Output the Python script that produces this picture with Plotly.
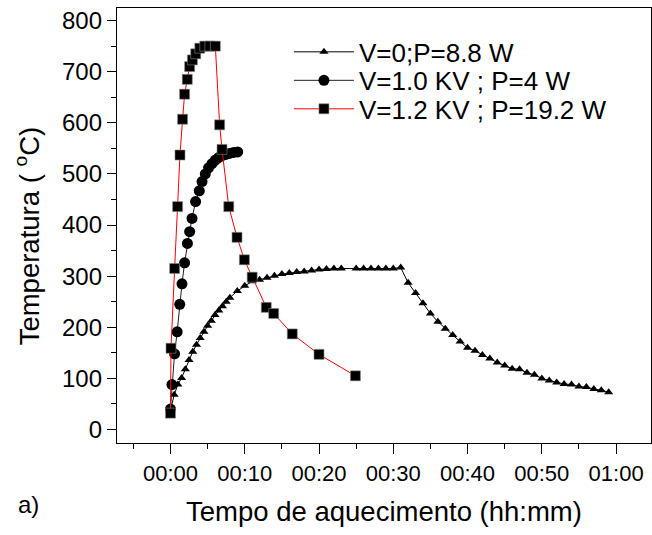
import plotly.graph_objects as go

# Heating time in minutes and temperature in degC for each run
t_v0 = [0, 0.5, 1.0, 1.5, 2.0, 2.5, 3.0, 3.5, 4.0, 4.5, 5.0, 5.5, 6.0, 6.5, 7.0, 7.5, 8.0,
        9, 10, 11, 12, 13, 14, 15, 16, 17, 18, 19, 20, 21, 22, 23,
        25, 26, 27, 28, 29, 30, 31,
        32, 33, 34, 35, 36, 37, 38, 39, 40, 41, 42, 43, 44, 45, 46, 47, 48, 49,
        50, 51, 52, 53, 54, 55, 56, 57, 58, 59]
temp_v0 = [38, 68, 88, 101, 118, 136, 152, 166, 179, 191, 203, 213, 224, 233, 241, 250, 258,
           271, 281, 290, 293, 297, 301, 304, 306, 308, 309, 311, 313, 314, 315, 315,
           315, 315, 315, 315, 315, 315, 317,
           287, 267, 247, 227, 211, 197, 185, 172, 160, 154, 146, 139, 131, 125, 119, 118, 111, 107,
           100, 96, 92, 89, 88, 84, 83, 79, 77, 73]

t_v10 = [0, 0.2, 0.55, 0.9, 1.25, 1.55, 1.9, 2.28, 2.58, 2.9, 3.38, 3.88, 4.25, 4.69,
         5.13, 5.59, 6.04, 6.48, 6.94, 7.39, 7.92, 8.5, 9.05]
temp_v10 = [40, 88, 148, 191, 245, 285, 326, 364, 387, 413, 446, 467, 485, 500,
            512, 520, 527, 532, 536, 538, 540, 542, 543]

t_v12 = [0, 0.07, 0.56, 0.96, 1.28, 1.63, 1.9, 2.26, 2.58, 2.95, 3.4, 3.95, 4.62, 5.3, 6.04,
         6.62, 6.94, 7.85, 8.96, 9.95, 11.0, 12.9, 13.9, 16.4, 20.0, 24.9]
temp_v12 = [32, 159, 315, 436, 537, 607, 656, 685, 710, 723, 735, 746, 750, 750, 750,
            596, 548, 436, 376, 332, 298, 239, 227, 187, 147, 105]

series_names = ["V=0;P=8.8 W", "V=1.0 KV ; P=4 W", "V=1.2 KV ; P=19.2 W"]

x_tick_vals = [0, 10, 20, 30, 40, 50, 60]
x_tick_text = ["00:00", "00:10", "00:20", "00:30", "00:40", "00:50", "01:00"]
y_tick_vals = [0, 100, 200, 300, 400, 500, 600, 700, 800]

FONT = "Liberation Sans, Arial, sans-serif"

fig = go.Figure()
fig.add_trace(go.Scatter(
    x=t_v0, y=temp_v0, name=series_names[0], mode="lines+markers", legend="legend",
    line=dict(color="black", width=1),
    marker=dict(symbol="triangle-up", size=8, color="black"),
))
fig.add_trace(go.Scatter(
    x=t_v10, y=temp_v10, name=series_names[1], mode="lines+markers", legend="legend2",
    line=dict(color="#222222", width=1),
    marker=dict(symbol="circle", size=11, color="black"),
))
fig.add_trace(go.Scatter(
    x=t_v12, y=temp_v12, name=series_names[2], mode="lines+markers", legend="legend3",
    line=dict(color="#ff0000", width=1),
    marker=dict(symbol="square", size=10, color="black",
                line=dict(color="#888888", width=0.6)),
))

x_range = [-7.2, 64.7]
y_range = [-26.4, 824.6]


def legend_row(y):
    # one legend box per series so each row sits at its own height
    return dict(
        x=0.322, y=y, xanchor="left", yanchor="middle",
        bgcolor="rgba(0,0,0,0)", borderwidth=0,
        font=dict(family=FONT, size=26, color="black"),
        itemwidth=60,
    )


fig.update_layout(
    width=652, height=535,
    margin=dict(l=117, r=1, t=8, b=92),
    paper_bgcolor="white", plot_bgcolor="white",
    font=dict(family=FONT, size=23, color="black"),
    showlegend=True,
    legend=legend_row(0.899),
    legend2=legend_row(0.8335),
    legend3=legend_row(0.768),
    xaxis=dict(
        range=x_range, showgrid=False, zeroline=False,
        showline=True, linecolor="black", linewidth=1.3, mirror=True,
        ticks="outside", ticklen=10, tickwidth=1.3, tickcolor="black",
        tickvals=x_tick_vals, ticktext=x_tick_text,
        tickfont=dict(family=FONT, size=22),
        minor=dict(dtick=5, tick0=0, ticks="outside", ticklen=5, tickwidth=1.3,
                   tickcolor="black", showgrid=False),
        title=dict(text="Tempo de aquecimento (hh:mm)", font=dict(family=FONT, size=27.5),
                   standoff=17),
    ),
    yaxis=dict(
        range=y_range, showgrid=False, zeroline=False,
        showline=True, linecolor="black", linewidth=1.3, mirror=True,
        ticks="outside", ticklen=9, tickwidth=1.3, tickcolor="black",
        tickvals=y_tick_vals,
        tickfont=dict(family=FONT, size=24),
        minor=dict(dtick=50, tick0=0, ticks="outside", ticklen=5, tickwidth=1.3,
                   tickcolor="black", showgrid=False),
    ),
    xaxis2=dict(
        overlaying="x", side="top", anchor="y", range=x_range,
        showgrid=False, zeroline=False, showline=False, showticklabels=False,
        ticks="inside", ticklen=3, tickwidth=1, tickcolor="black", dtick=5, tick0=0,
    ),
    yaxis2=dict(
        overlaying="y", side="right", anchor="x", range=y_range,
        showgrid=False, zeroline=False, showline=False, showticklabels=False,
        ticks="inside", ticklen=3, tickwidth=1, tickcolor="black", dtick=50, tick0=0,
    ),
    annotations=[
        # vertical axis title
        dict(
            text="Temperatura ( <sup>o</sup>C)", xref="paper", yref="paper",
            x=-0.167, y=0.477, xanchor="center", yanchor="middle",
            textangle=-90, showarrow=False,
            font=dict(family=FONT, size=27.5, color="black"),
        ),
        # panel label
        dict(
            text="a)", xref="paper", yref="paper", x=-0.165, y=-0.142,
            xanchor="center", yanchor="middle", showarrow=False,
            font=dict(family=FONT, size=24, color="black"),
        ),
    ],
)

fig.write_html("out.html")
